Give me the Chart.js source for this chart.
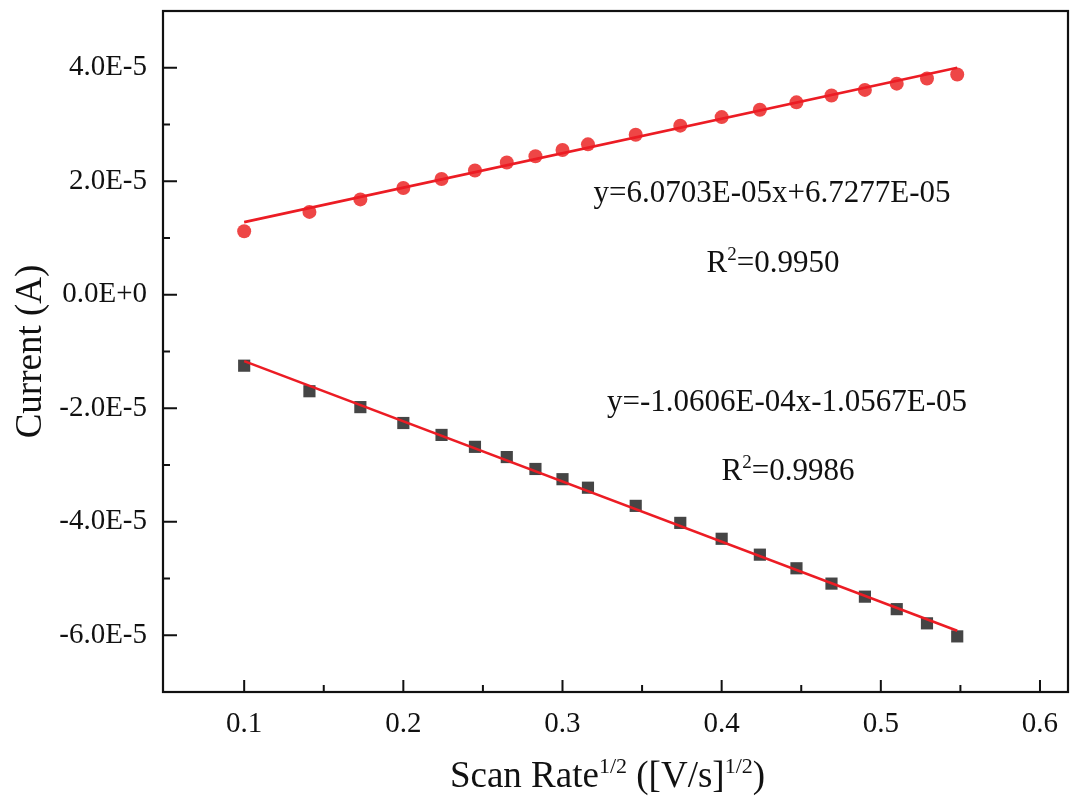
<!DOCTYPE html>
<html>
<head>
<meta charset="utf-8">
<script src="https://cdn.jsdelivr.net/npm/chart.js@4.4.1/dist/chart.umd.min.js"></script>
<style>
  html, body { margin: 0; padding: 0; background: #fff; }
  #wrap { width: 1077px; height: 802px; position: relative; }
</style>
</head>
<body>
<div id="wrap"><canvas id="cvChart"></canvas></div>
<script>
// square root of scan rate, ([V/s]^1/2)
const sqrtScanRate = [0.100, 0.141, 0.173, 0.200, 0.224, 0.245, 0.265, 0.283, 0.300, 0.316,
                      0.346, 0.374, 0.400, 0.424, 0.447, 0.469, 0.490, 0.510, 0.529, 0.548];

// peak currents (A)
const anodicCurrent = [1.12e-5, 1.46e-5, 1.68e-5, 1.88e-5, 2.04e-5, 2.19e-5, 2.33e-5, 2.44e-5, 2.55e-5, 2.65e-5,
                       2.82e-5, 2.98e-5, 3.13e-5, 3.26e-5, 3.39e-5, 3.51e-5, 3.61e-5, 3.72e-5, 3.81e-5, 3.88e-5];
const cathodicCurrent = [-1.25e-5, -1.70e-5, -1.98e-5, -2.26e-5, -2.47e-5, -2.68e-5, -2.86e-5, -3.07e-5, -3.25e-5, -3.40e-5,
                         -3.72e-5, -4.02e-5, -4.30e-5, -4.58e-5, -4.82e-5, -5.09e-5, -5.32e-5, -5.54e-5, -5.79e-5, -6.02e-5];

// linear fit end points
const fitX = [0.100, 0.548];
const fitAnodic = [1.28e-5, 4.00e-5];
const fitCathodic = [-1.17e-5, -5.92e-5];

// axis ticks
const xTicks = [0.1, 0.2, 0.3, 0.4, 0.5, 0.6];
const xTickLabels = ['0.1', '0.2', '0.3', '0.4', '0.5', '0.6'];
const xMinorTicks = [0.15, 0.25, 0.35, 0.45, 0.55];
const yTicks = [-6e-5, -4e-5, -2e-5, 0, 2e-5, 4e-5];
const yTickLabels = ['-6.0E-5', '-4.0E-5', '-2.0E-5', '0.0E+0', '2.0E-5', '4.0E-5'];
const yMinorTicks = [-5e-5, -3e-5, -1e-5, 1e-5, 3e-5];

const FONT = '"Liberation Serif", "Times New Roman", serif';

function toPoints(xs, ys) {
    return xs.map((x, i) => ({ x: x, y: ys[i] }));
}

// text with superscript pieces, centered on cx
function drawRich(ctx, parts, cx, baseline, size) {
    const supSize = Math.round(size * 0.6);
    let total = 0;
    parts.forEach(p => {
        ctx.font = (p.sup ? supSize : size) + 'px ' + FONT;
        p.w = ctx.measureText(p.t).width;
        total += p.w;
    });
    let x = cx - total / 2;
    ctx.textAlign = 'left';
    ctx.textBaseline = 'alphabetic';
    parts.forEach(p => {
        ctx.font = (p.sup ? supSize : size) + 'px ' + FONT;
        ctx.fillText(p.t, x, p.sup ? baseline - size * 0.38 : baseline);
        x += p.w;
    });
}

const frameAndText = {
    id: 'frameAndText',
    afterDraw(chart) {
        const ctx = chart.ctx;
        const a = chart.chartArea;
        const xs = chart.scales.x;
        const ys = chart.scales.y;
        ctx.save();
        ctx.strokeStyle = '#111';
        ctx.lineWidth = 2.2;
        ctx.strokeRect(a.left, a.top, a.right - a.left, a.bottom - a.top);

        // inward ticks
        ctx.lineWidth = 2;
        ctx.beginPath();
        yTicks.forEach(v => { const p = ys.getPixelForValue(v); ctx.moveTo(a.left, p); ctx.lineTo(a.left + 14, p); });
        yMinorTicks.forEach(v => { const p = ys.getPixelForValue(v); ctx.moveTo(a.left, p); ctx.lineTo(a.left + 7, p); });
        xTicks.forEach(v => { const p = xs.getPixelForValue(v); ctx.moveTo(p, a.bottom); ctx.lineTo(p, a.bottom - 12); });
        xMinorTicks.forEach(v => { const p = xs.getPixelForValue(v); ctx.moveTo(p, a.bottom); ctx.lineTo(p, a.bottom - 7); });
        ctx.stroke();

        ctx.fillStyle = '#111';
        // y title
        ctx.save();
        ctx.translate(31, (a.top + a.bottom) / 2);
        ctx.rotate(-Math.PI / 2);
        ctx.font = '37px ' + FONT;
        ctx.textAlign = 'center';
        ctx.textBaseline = 'middle';
        ctx.fillText('Current (A)', 0, 0);
        ctx.restore();

        // x title
        drawRich(ctx, [
            { t: 'Scan Rate' }, { t: '1/2', sup: true },
            { t: ' ([V/s]' }, { t: '1/2', sup: true }, { t: ')' }
        ], (a.left + a.right) / 2 - 8, 787, 37);

        // fit equations
        drawRich(ctx, [{ t: 'y=6.0703E-05x+6.7277E-05' }], 772, 202, 31);
        drawRich(ctx, [{ t: 'R' }, { t: '2', sup: true }, { t: '=0.9950' }], 773, 272, 31);
        drawRich(ctx, [{ t: 'y=-1.0606E-04x-1.0567E-05' }], 787, 411, 31);
        drawRich(ctx, [{ t: 'R' }, { t: '2', sup: true }, { t: '=0.9986' }], 788, 480, 31);
        ctx.restore();
    }
};

document.addEventListener('DOMContentLoaded', function () {
    const ctx = document.getElementById('cvChart').getContext('2d');

    new Chart(ctx, {
        type: 'scatter',
        data: {
            datasets: [{
                type: 'line',
                data: toPoints(fitX, fitAnodic),
                borderColor: '#ec1c24',
                borderWidth: 2.6,
                pointRadius: 0,
                order: 0
            }, {
                type: 'line',
                data: toPoints(fitX, fitCathodic),
                borderColor: '#ec1c24',
                borderWidth: 2.6,
                pointRadius: 0,
                order: 0
            }, {
                data: toPoints(sqrtScanRate, anodicCurrent),
                pointStyle: 'circle',
                pointRadius: 7,
                backgroundColor: 'rgba(236, 50, 50, 0.9)',
                borderWidth: 0,
                order: 1
            }, {
                data: toPoints(sqrtScanRate, cathodicCurrent),
                pointStyle: 'rect',
                pointRadius: 8.6,
                backgroundColor: '#454545',
                borderWidth: 0,
                order: 1
            }]
        },
        options: {
            responsive: true,
            maintainAspectRatio: false,
            animation: false,
            layout: { padding: { top: 11, right: 9, left: 0, bottom: 0 } },
            plugins: {
                legend: { display: false },
                tooltip: { enabled: false }
            },
            scales: {
                x: {
                    type: 'linear',
                    min: 0.049,
                    max: 0.6176,
                    grid: { display: false, drawTicks: false },
                    border: { display: false },
                    afterBuildTicks: s => { s.ticks = xTicks.map(v => ({ value: v })); },
                    afterFit: s => { s.height = 110; s.paddingLeft = 0; s.paddingRight = 0; },
                    ticks: {
                        callback: (v, i) => xTickLabels[i],
                        font: { family: FONT, size: 29 },
                        color: '#111',
                        padding: 15,
                        maxRotation: 0
                    }
                },
                y: {
                    type: 'linear',
                    min: -7e-5,
                    max: 5e-5,
                    grid: { display: false, drawTicks: false },
                    border: { display: false },
                    afterBuildTicks: s => { s.ticks = yTicks.map(v => ({ value: v })); },
                    afterFit: s => { s.width = 163; s.paddingTop = 0; s.paddingBottom = 0; },
                    ticks: {
                        callback: (v, i) => yTickLabels[i],
                        font: { family: FONT, size: 29 },
                        color: '#111',
                        padding: 16
                    }
                }
            }
        },
        plugins: [frameAndText]
    });
});
</script>
</body>
</html>
